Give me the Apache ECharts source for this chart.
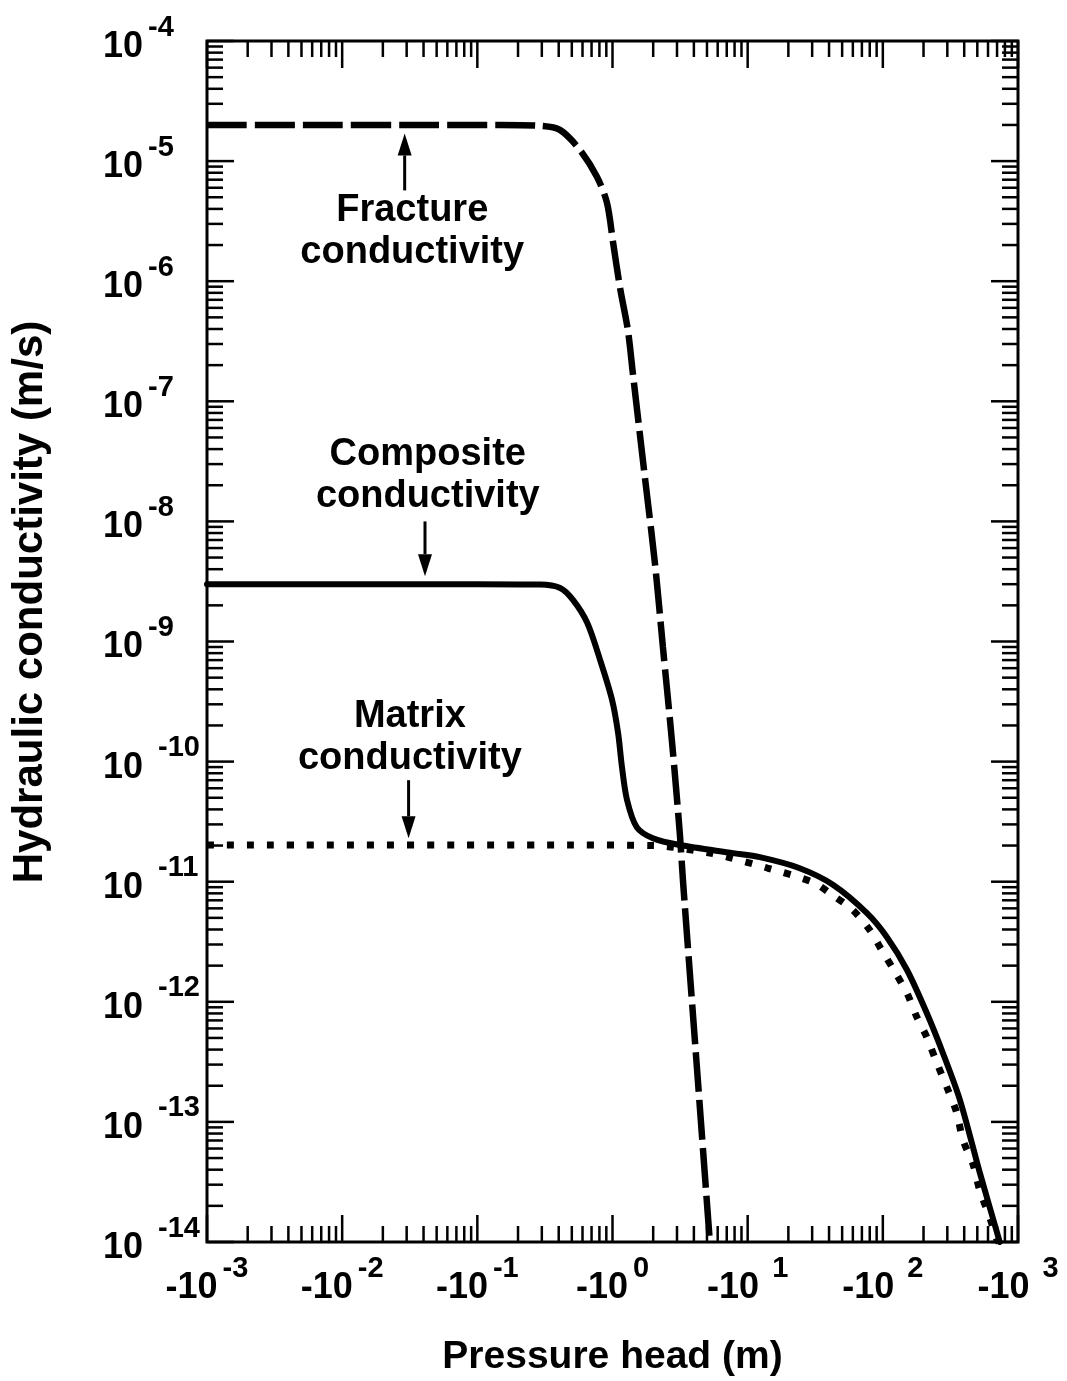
<!DOCTYPE html>
<html>
<head>
<meta charset="utf-8">
<script src="https://cdn.jsdelivr.net/npm/echarts@6/dist/echarts.min.js"></script>
<style>
  html, body { margin: 0; padding: 0; background: #fff; }
  #chart { width: 1067px; height: 1381px; }
</style>
</head>
<body>
<div id="chart"></div>
<script>
// Pressure-head magnitude |h| (m) and hydraulic conductivity K (m/s) for each curve.
const fractureHead = [0.001, 0.147, 0.29, 0.408, 0.574, 0.767, 0.91, 1.01, 1.135, 1.30, 1.415, 1.71, 2.06, 2.36, 2.75, 3.15, 3.32, 4.17, 5.25];
const fractureK    = [2.0e-5, 2.0e-5, 1.97e-5, 1.82e-5, 1.24e-5, 7.4e-6, 4.5e-6, 2.1e-6, 8.9e-7, 3.9e-7, 1.7e-7, 2.7e-8, 4.5e-9, 9.0e-10, 1.5e-10, 2.5e-11, 1.03e-11, 3.3e-13, 1.0e-14];

const compositeHead = [0.001, 0.1, 0.29, 0.41, 0.51, 0.65, 0.81, 0.99, 1.10, 1.175, 1.28, 1.51, 1.99, 3.15, 7.8, 12.3, 24, 43, 76, 107, 151, 211, 278, 372, 521, 733];
const compositeK    = [3.0e-9, 3.0e-9, 2.98e-9, 2.79e-9, 2.22e-9, 1.43e-9, 7.0e-10, 3.3e-10, 1.73e-10, 9.0e-11, 4.8e-11, 2.85e-11, 2.3e-11, 2.02e-11, 1.73e-11, 1.6e-11, 1.30e-11, 9.4e-12, 5.5e-12, 3.47e-12, 1.84e-12, 8.1e-13, 3.75e-13, 1.52e-13, 3.8e-14, 1.0e-14];

const matrixHead = [0.001, 0.5, 2.0, 5.0, 7.0, 14, 30.3, 42.7, 60, 80, 98, 123, 151, 178, 211, 251, 303, 352, 391, 463, 521, 618, 697, 720];
const matrixK    = [2.02e-11, 2.02e-11, 2.0e-11, 1.75e-11, 1.61e-11, 1.30e-11, 9.9e-12, 7.7e-12, 5.8e-12, 3.96e-12, 2.70e-12, 1.77e-12, 1.18e-12, 7.5e-13, 5.1e-13, 3.1e-13, 1.85e-13, 1.19e-13, 7.1e-14, 4.5e-14, 2.7e-14, 1.6e-14, 1.05e-14, 1.0e-14];

// Axis ranges (decade exponents) and text
const xDecades = [-3, -2, -1, 0, 1, 2, 3];
const yDecades = [-14, -13, -12, -11, -10, -9, -8, -7, -6, -5, -4];
const xTitle = 'Pressure head (m)';
const yTitle = 'Hydraulic conductivity (m/s)';
const noteText = ['Fracture\nconductivity', 'Composite\nconductivity', 'Matrix\nconductivity'];

// Annotation anchors in data space: text centre, arrow tail and arrow tip
const noteLayout = [
  { text: [0.033, 2.6e-6],  arrowH: 0.029, tail: 5.7e-6, tip: 1.7e-5 },
  { text: [0.043, 2.39e-8], arrowH: 0.041, tail: 1.0e-8, tip: 3.5e-9 },
  { text: [0.0317, 1.6e-10], arrowH: 0.031, tail: 7.0e-11, tip: 2.3e-11 }
];

const FONT = '"Liberation Sans", Arial, Helvetica, sans-serif';
const X_MIN = Math.pow(10, xDecades[0]), X_MAX = Math.pow(10, xDecades[xDecades.length - 1]);
const Y_MIN = Math.pow(10, yDecades[0]), Y_MAX = Math.pow(10, yDecades[yDecades.length - 1]);

function zip(a, b) { return a.map((v, i) => [v, b[i]]); }

// log-decade tick positions: 1..9 x 10^n inside each decade
function decadeTicks(decades) {
  const out = [];
  for (let i = 0; i < decades.length - 1; i++) {
    for (let m = 1; m <= 9; m++) out.push(m * Math.pow(10, decades[i]));
  }
  out.push(Math.pow(10, decades[decades.length - 1]));
  return out;
}
function isMajor(v) {
  const e = Math.round(Math.log10(v));
  return Math.abs(v / Math.pow(10, e) - 1) < 1e-6;
}

const TICK_MAJOR = 27, TICK_MINOR = 16;
const tickStyle = { stroke: '#000', lineWidth: 2.5 };

// "10" with a raised exponent
const supRich = {
  b: { fontSize: 36, fontWeight: 'bold', fontFamily: FONT, color: '#000', lineHeight: 52, verticalAlign: 'bottom' },
  s: { fontSize: 29, fontWeight: 'bold', fontFamily: FONT, color: '#000', lineHeight: 26, verticalAlign: 'top', padding: [0, 0, 0, 5] }
};

function renderXTick(params, api) {
  const cs = params.coordSys;
  const v = api.value(0);
  const len = isMajor(v) ? TICK_MAJOR : TICK_MINOR;
  const x = api.coord([v, Y_MIN])[0];
  return {
    type: 'group',
    children: [
      { type: 'line', shape: { x1: x, y1: cs.y + cs.height, x2: x, y2: cs.y + cs.height - len }, style: tickStyle },
      { type: 'line', shape: { x1: x, y1: cs.y, x2: x, y2: cs.y + len }, style: tickStyle }
    ]
  };
}
// y ticks on both sides, with a 10^n label at each decade
function renderYTick(params, api) {
  const cs = params.coordSys;
  const v = api.value(1);
  const major = isMajor(v);
  const len = major ? TICK_MAJOR : TICK_MINOR;
  const y = api.coord([X_MIN, v])[1];
  const children = [
    { type: 'line', shape: { x1: cs.x, y1: y, x2: cs.x + len, y2: y }, style: tickStyle },
    { type: 'line', shape: { x1: cs.x + cs.width, y1: y, x2: cs.x + cs.width - len, y2: y }, style: tickStyle }
  ];
  if (major) {
    const e = Math.round(Math.log10(v));
    children.push({
      type: 'text',
      style: {
        text: '{b|10' + (e <= -10 ? ' ' : '') + '}{s|' + e + '}',
        rich: supRich, x: cs.x - 104, y: y - 2, align: 'left', verticalAlign: 'middle'
      }
    });
  }
  return { type: 'group', children: children };
}

// Two-line label with a vertical arrow pointing at its curve
function renderNote(params, api) {
  const i = api.value(0);
  const L = noteLayout[i];
  const c = api.coord(L.text);
  const t0 = api.coord([L.arrowH, L.tail]);
  const t1 = api.coord([L.arrowH, L.tip]);
  const dir = t1[1] > t0[1] ? 1 : -1;
  const headLen = 22, headHalf = 7;
  const baseY = t1[1] - dir * headLen;
  return {
    type: 'group',
    children: [
      {
        type: 'text',
        style: {
          text: noteText[i], x: c[0], y: c[1],
          align: 'center', verticalAlign: 'middle',
          font: 'bold 38px ' + FONT, lineHeight: 42, fill: '#000'
        }
      },
      { type: 'line', shape: { x1: t0[0], y1: t0[1], x2: t1[0], y2: baseY }, style: { stroke: '#000', lineWidth: 3 } },
      { type: 'polygon', shape: { points: [[t1[0], t1[1]], [t1[0] - headHalf, baseY], [t1[0] + headHalf, baseY]] }, style: { fill: '#000' } }
    ]
  };
}

const chart = echarts.init(document.getElementById('chart'), null, { renderer: 'canvas' });
chart.setOption({
  animation: false,
  backgroundColor: '#fff',
  grid: {
    left: 207, right: 49, top: 41, bottom: 139,
    show: true, borderColor: '#000', borderWidth: 3, backgroundColor: 'transparent',
    containLabel: false, outerBoundsMode: 'none'
  },
  xAxis: {
    type: 'log', logBase: 10, min: X_MIN, max: X_MAX, splitNumber: xDecades.length - 1,
    axisLine: { show: false }, axisTick: { show: false }, splitLine: { show: false },
    axisLabel: {
      margin: 12,
      formatter: v => {
        const e = Math.round(Math.log10(v));
        return '{b|-10}{s|' + (e > 0 ? ' ' : '') + e + '}';
      },
      rich: supRich
    },
    name: xTitle, nameLocation: 'middle', nameGap: 96,
    nameTextStyle: { fontSize: 39, fontWeight: 'bold', fontFamily: FONT, color: '#000' }
  },
  yAxis: {
    type: 'log', logBase: 10, min: Y_MIN, max: Y_MAX,
    axisLine: { show: false }, axisTick: { show: false }, splitLine: { show: false },
    axisLabel: { show: false }
  },
  graphic: [{
    type: 'text', x: 30, y: 602, rotation: Math.PI / 2,
    style: {
      text: yTitle, font: 'bold 42px ' + FONT, fill: '#000',
      align: 'center', verticalAlign: 'middle', textAlign: 'center', textVerticalAlign: 'middle'
    }
  }],
  series: [
    {
      name: 'x ticks', type: 'custom', coordinateSystem: 'cartesian2d', clip: false, silent: true, z: 1,
      data: decadeTicks(xDecades).map(v => [v, Y_MIN]), renderItem: renderXTick
    },
    {
      name: 'y ticks', type: 'custom', coordinateSystem: 'cartesian2d', clip: false, silent: true, z: 1,
      data: decadeTicks(yDecades).map(v => [X_MIN, v]), renderItem: renderYTick
    },
    {
      name: 'Matrix conductivity', type: 'line', data: zip(matrixHead, matrixK),
      showSymbol: false, smooth: 0.3, clip: true, z: 3,
      lineStyle: { color: '#000', width: 7, type: [7, 13], cap: 'butt' }
    },
    {
      name: 'Composite conductivity', type: 'line', data: zip(compositeHead, compositeK),
      showSymbol: false, smooth: 0.3, clip: true, z: 4,
      lineStyle: { color: '#000', width: 6, type: 'solid', cap: 'round', join: 'round' }
    },
    {
      name: 'Fracture conductivity', type: 'line', data: zip(fractureHead, fractureK),
      showSymbol: false, smooth: 0.3, clip: true, z: 5,
      lineStyle: { color: '#000', width: 6.5, type: [40, 8], cap: 'butt' }
    },
    {
      name: 'notes', type: 'custom', coordinateSystem: 'cartesian2d', clip: false, silent: true, z: 6,
      data: noteLayout.map((n, i) => [i, 1e-9]), encode: { x: -1, y: -1 }, renderItem: renderNote
    }
  ]
});
</script>
</body>
</html>
